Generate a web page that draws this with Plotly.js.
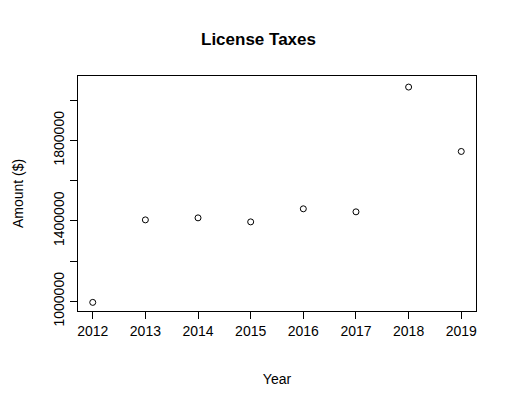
<!DOCTYPE html>
<html>
<head>
<script src="https://cdn.plot.ly/plotly-3.0.1.min.js"></script>
<style>body{margin:0;background:#fff}</style>
</head>
<body>
<div id="plot" style="width:517px;height:408px"></div>
<script>
// License taxes per year
const years = [2012, 2013, 2014, 2015, 2016, 2017, 2018, 2019];
const amounts = [995000, 1405000, 1415000, 1395000, 1460000, 1445000, 2065000, 1745000];
const yTicks = [1000000, 1200000, 1400000, 1600000, 1800000, 2000000];
const yTickText = ['1000000', '', '1400000', '', '1800000', ''];

const trace = {
  x: years,
  y: amounts,
  type: 'scatter',
  mode: 'markers',
  marker: {symbol: 'circle-open', size: 6, color: '#000', line: {width: 1, color: '#000'}}
};

const layout = {
  width: 517,
  height: 408,
  margin: {l: 78, r: 41, t: 76, b: 97},
  paper_bgcolor: '#fff',
  plot_bgcolor: '#fff',
  font: {family: 'Liberation Sans, Arial', size: 14, color: '#000'},
  title: {text: '<b>License Taxes</b>', x: 0.5, xanchor: 'center', y: 0.92, font: {size: 17}},
  showlegend: false,
  xaxis: {
    title: {text: 'Year', standoff: 36, font: {size: 14}},
    range: [2011.72, 2019.28],
    tickvals: years,
    tickfont: {size: 14},
    ticks: 'outside', ticklen: 7, tickcolor: '#000',
    showgrid: false, zeroline: false,
    showline: true, mirror: true, linecolor: '#000', linewidth: 1
  },
  yaxis: {
    title: {text: 'Amount ($)', standoff: 24, font: {size: 14}},
    range: [952200, 2120000],
    tickvals: yTicks,
    ticktext: yTickText,
    tickangle: -90,
    tickfont: {size: 14},
    ticks: 'outside', ticklen: 7, tickcolor: '#000',
    showgrid: false, zeroline: false,
    showline: true, mirror: true, linecolor: '#000', linewidth: 1
  }
};

Plotly.newPlot('plot', [trace], layout, {staticPlot: true});
</script>
</body>
</html>
